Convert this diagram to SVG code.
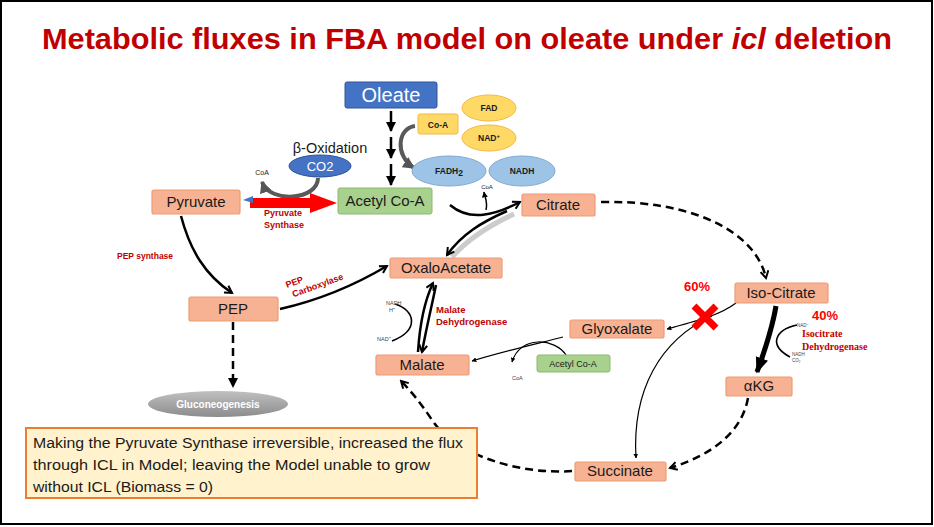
<svg xmlns="http://www.w3.org/2000/svg" width="934" height="527" viewBox="0 0 934 527">
<defs>
<style>
.node{fill:#F7B294;stroke:#EF9A72;stroke-width:1.2}
.nt{font-family:"Liberation Sans",Arial,sans-serif;font-size:15px;fill:#1a1a1a;text-anchor:middle}
.red{font-family:"Liberation Sans",Arial,sans-serif;font-weight:bold;fill:#C00000;font-size:10px}
.sm{font-family:"Liberation Sans",Arial,sans-serif;font-size:5.5px;fill:#444}
.ln{fill:none;stroke:#000;stroke-width:2.5}
.th{fill:none;stroke:#000;stroke-width:1.2}
.dash{fill:none;stroke:#000;stroke-width:2.5;stroke-dasharray:8 5}
</style>
<marker id="ah" viewBox="0 0 10 10" refX="8" refY="5" markerWidth="4" markerHeight="4" orient="auto"><path d="M1,1 L8,5 L1,9" fill="none" stroke="#000" stroke-width="2"/></marker>
<marker id="af" viewBox="0 0 10 10" refX="9" refY="5" markerWidth="4" markerHeight="4" orient="auto"><path d="M0,0 L10,5 L0,10 z" fill="#000"/></marker>
<marker id="as" viewBox="0 0 10 10" refX="9" refY="5" markerWidth="3.2" markerHeight="3.2" orient="auto"><path d="M0,1 L10,5 L0,9 z" fill="#000"/></marker>
<marker id="ag" viewBox="0 0 10 10" refX="9" refY="5" markerWidth="3" markerHeight="3" orient="auto"><path d="M0,0 L10,5 L0,10 z" fill="#555"/></marker>
<linearGradient id="gg" x1="0" y1="0" x2="0" y2="1"><stop offset="0" stop-color="#C0C0C0"/><stop offset="1" stop-color="#8C8C8C"/></linearGradient>
</defs>
<rect x="1" y="1" width="931" height="523" fill="#fff" stroke="#000" stroke-width="2"/>
<text x="467" y="49" text-anchor="middle" font-family="Liberation Sans Narrow,Liberation Sans,Arial,sans-serif" font-weight="bold" font-size="30" fill="#C00000" textLength="850" lengthAdjust="spacingAndGlyphs">Metabolic fluxes in FBA model on oleate under <tspan font-style="italic">icl</tspan> deletion</text>

<g id="connectors">
  <line x1="391" y1="111" x2="391" y2="131" class="ln" stroke-width="2" marker-end="url(#af)"/>
  <line x1="391" y1="137" x2="391" y2="158" class="ln" stroke-width="2" marker-end="url(#af)"/>
  <line x1="391" y1="164" x2="391" y2="185" class="ln" stroke-width="2" marker-end="url(#af)"/>
  <path d="M415,126 C398,128 394,155 414,168" fill="none" stroke="#595959" stroke-width="4" marker-end="url(#ag)"/>
  <path d="M318,178 C318,200 270,204 262,182" fill="none" stroke="#595959" stroke-width="4" marker-end="url(#ag)"/>
  <line x1="250" y1="203" x2="312" y2="203" stroke="#FF0000" stroke-width="10"/>
  <path d="M310,193 L337,203 L310,213 z" fill="#FF0000"/>
  <path d="M253,196 L243,200 L253,203 z" fill="#4472C4"/>
  <path d="M181,216 C190,250 205,275 232,293" class="ln" stroke-width="2.5" marker-end="url(#ah)"/>
  <path d="M280,309 C320,300 355,285 387,266" class="ln" stroke-width="2.5" marker-end="url(#ah)"/>
  <line x1="233" y1="322" x2="233" y2="387" class="dash" marker-end="url(#af)"/>
  <path d="M450,205 C470,222 495,215 520,202" class="ln" stroke-width="3" marker-end="url(#ah)"/>
  <path d="M486,210 C488,202 485,198 484,192" fill="none" stroke="#000" stroke-width="1.5" marker-end="url(#af)"/>
  <path d="M514,214 C488,226 468,239 452,257" fill="none" stroke="#aaa" stroke-width="5" opacity="0.6"/>
  <path d="M507,211 C482,222 462,234 447,255" class="ln" stroke-width="2.5" marker-end="url(#ah)"/>
  <path d="M601,202 C690,200 755,230 766,278" class="dash" marker-end="url(#ah)"/>
  <path d="M418,352 C420,320 425,300 433,283" class="ln" stroke-width="2.2" marker-end="url(#ah)"/>
  <path d="M436,285 C432,305 427,325 422,352" fill="none" stroke="#000" stroke-width="2.5" marker-end="url(#ah)"/>
  <path d="M395,304 C415,310 420,330 392,341" fill="none" stroke="#000" stroke-width="1.6"/>
  <path d="M776,306 C772,330 765,350 757,372" fill="none" stroke="#000" stroke-width="5" marker-end="url(#as)"/>
  <path d="M797,325 C775,330 768,345 790,357" fill="none" stroke="#000" stroke-width="1.6"/>
  <path d="M736,303 C720,315 700,320 667,329" class="th" marker-end="url(#af)"/>
  <path d="M712,316 C660,340 632,390 636,458" class="th" marker-end="url(#af)"/>
  <path d="M563,337 C540,343 500,352 472,361" class="th" stroke-width="1.5" marker-end="url(#af)"/>
  <path d="M566,355 C555,338 520,335 512,362" class="th" stroke-width="1.3" marker-end="url(#af)"/>
  <path d="M748,398 C742,432 712,455 670,468" class="dash" marker-end="url(#ah)"/>
  <path d="M572,471 C520,475 455,455 432,420 C420,402 410,390 401,381" class="dash" marker-end="url(#ah)"/>
  <path d="M694,306 L716,328 M716,306 L694,328" stroke="#FF0000" stroke-width="7"/>
</g>

<g id="oleate"><rect x="345" y="82" width="92" height="26" fill="#4472C4" stroke="#2F5597" rx="2"/><text x="391" y="102" class="nt" style="fill:#fff;font-size:20px">Oleate</text></g>
<g id="coa"><rect x="418" y="114" width="40" height="20" fill="#FFD966" stroke="#F4B942" rx="2"/><text x="438" y="128" class="nt" font-weight="bold" style="font-size:8.5px">Co-A</text></g>
<g id="fad"><ellipse cx="489" cy="108" rx="27" ry="13" fill="#FFD966" stroke="#F4B942"/><text x="489" y="111" class="nt" font-weight="bold" style="font-size:8.5px">FAD</text></g>
<g id="nad"><ellipse cx="489" cy="138" rx="27" ry="13" fill="#FFD966" stroke="#F4B942"/><text x="489" y="141" class="nt" font-weight="bold" style="font-size:8.5px">NAD<tspan dy="-3" font-size="6">+</tspan></text></g>
<g id="fadh2"><ellipse cx="449" cy="171" rx="37" ry="15" fill="#9DC3E6" stroke="#7EA9D4"/><text x="449" y="174" class="nt" font-weight="bold" style="font-size:8.5px">FADH<tspan dy="2">2</tspan></text></g>
<g id="nadh"><ellipse cx="522" cy="171" rx="33" ry="15" fill="#9DC3E6" stroke="#7EA9D4"/><text x="522" y="174" class="nt" font-weight="bold" style="font-size:8.5px">NADH</text></g>
<g id="beta"><text x="330" y="153" class="nt" style="font-size:14.5px">β-Oxidation</text></g>
<g id="co2"><ellipse cx="320" cy="166" rx="31" ry="11" fill="#4472C4" stroke="#2F5597"/><text x="320" y="171" class="nt" style="fill:#fff;font-size:13px">CO2</text></g>
<text x="262" y="175" class="nt" style="font-size:7px">CoA</text>
<text x="487" y="189" class="nt" style="font-size:6px">CoA</text>

<g id="pyruvate"><rect x="152" y="190" width="88" height="24" class="node" rx="2"/><text x="196" y="207" class="nt">Pyruvate</text></g>
<g id="acetylcoa"><rect x="338" y="188" width="94" height="26" fill="#A9D18E" stroke="#8DB871" rx="2"/><text x="385" y="206" class="nt">Acetyl Co-A</text></g>
<text x="264" y="216" class="red" style="font-size:9px">Pyruvate</text>
<text x="264" y="228" class="red" style="font-size:9px">Synthase</text>
<g id="citrate"><rect x="522" y="194" width="73" height="22" class="node" rx="2"/><text x="558" y="210" class="nt">Citrate</text></g>
<g id="oxalo"><rect x="390" y="258" width="112" height="20" class="node" rx="2"/><text x="446" y="273" class="nt">OxaloAcetate</text></g>
<g id="pep"><rect x="189" y="297" width="89" height="24" class="node" rx="2"/><text x="233" y="314" class="nt">PEP</text></g>
<text x="117" y="259" class="red" style="font-size:8.5px">PEP synthase</text>
<g transform="translate(287,288) rotate(-20)"><text x="0" y="0" class="red" style="font-size:9px">PEP</text><text x="3" y="11" class="red" style="font-size:9px">Carboxylase</text></g>
<g id="isocitrate"><rect x="735" y="283" width="93" height="20" class="node" rx="2"/><text x="781" y="298" class="nt">Iso-Citrate</text></g>
<g id="glyoxalate"><rect x="570" y="320" width="94" height="18" class="node" rx="2"/><text x="617" y="334" class="nt">Glyoxalate</text></g>
<g id="malate"><rect x="376" y="355" width="93" height="20" class="node" rx="2"/><text x="422" y="370" class="nt">Malate</text></g>
<g id="acetylcoa2"><rect x="537" y="355" width="73" height="17" fill="#A9D18E" stroke="#8DB871" rx="2"/><text x="573" y="367" class="nt" style="font-size:9px">Acetyl Co-A</text></g>
<g id="akg"><rect x="726" y="377" width="66" height="19" class="node" rx="2"/><text x="759" y="391" class="nt">αKG</text></g>
<g id="succinate"><rect x="575" y="462" width="91" height="19" class="node" rx="2"/><text x="620" y="476" class="nt">Succinate</text></g>
<g id="gluconeo"><ellipse cx="218" cy="404" rx="70" ry="13" fill="url(#gg)"/><text x="218" y="408" class="nt" style="fill:#fff;font-weight:bold;font-size:10px">Gluconeogenesis</text></g>

<text x="436" y="313" class="red" style="font-size:9.5px">Malate</text>
<text x="436" y="325" class="red" style="font-size:9.5px">Dehydrogenase</text>
<text x="386" y="305" class="sm">NADH</text>
<text x="389" y="312" class="sm">H⁺</text>
<text x="377" y="341" class="sm">NAD⁺</text>
<text x="512" y="380" class="sm">CoA</text>
<text x="684" y="291" class="red" style="fill:#FF0000;font-size:13px">60%</text>
<text x="812" y="320" class="red" style="fill:#FF0000;font-size:13px">40%</text>
<text x="802" y="337" class="red" style="font-family:'Liberation Serif',serif;font-size:10px">Isocitrate</text>
<text x="802" y="350" class="red" style="font-family:'Liberation Serif',serif;font-size:10px">Dehydrogenase</text>
<text x="797" y="327" class="sm" style="font-size:4.5px">NAD⁺</text>
<text x="792" y="356" class="sm" style="font-size:4.5px">NADH</text>
<text x="792" y="362" class="sm" style="font-size:4.5px">CO₂</text>

<g id="note"><rect x="26" y="428" width="451" height="70" fill="#FFF2CC" stroke="#ED7D31" stroke-width="2"/>
<text x="33" y="448" font-family="Liberation Sans,Arial,sans-serif" font-size="15.5" fill="#1a1a1a" textLength="430" lengthAdjust="spacingAndGlyphs">Making the Pyruvate Synthase irreversible, increased the flux</text>
<text x="33" y="470" font-family="Liberation Sans,Arial,sans-serif" font-size="15.5" fill="#1a1a1a" textLength="397" lengthAdjust="spacingAndGlyphs">through ICL in Model; leaving the Model unable to grow</text>
<text x="33" y="492" font-family="Liberation Sans,Arial,sans-serif" font-size="15.5" fill="#1a1a1a" textLength="180" lengthAdjust="spacingAndGlyphs">without ICL (Biomass = 0)</text></g>
</svg>
